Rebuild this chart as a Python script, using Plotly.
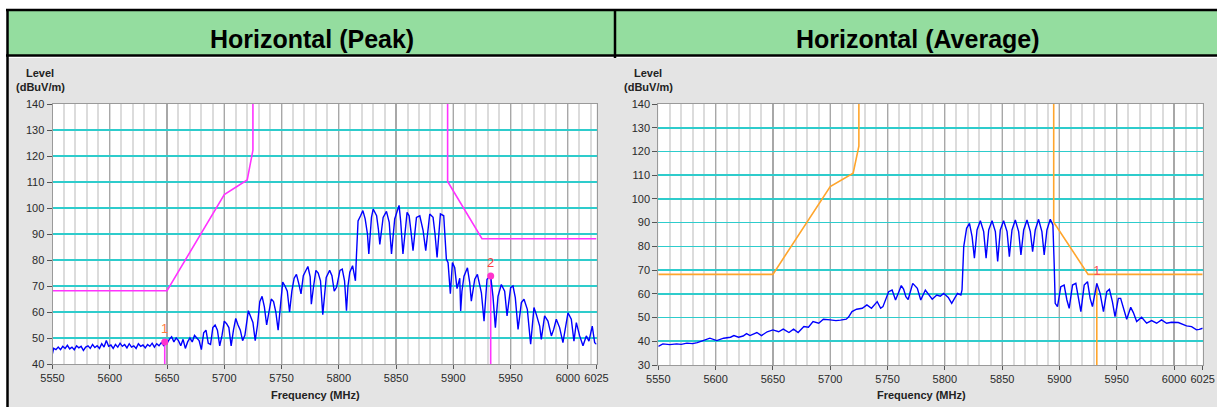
import plotly.graph_objects as go

W, H = 1217, 407

# ---------------- data ----------------
x_tick_vals = [5550, 5600, 5650, 5700, 5750, 5800, 5850, 5900, 5950, 6000, 6025]
x_tick_text = ["5550", "5600", "5650", "5700", "5750", "5800", "5850", "5900", "5950", "6000", "6025"]
peak_y_ticks = [40, 50, 60, 70, 80, 90, 100, 110, 120, 130, 140]
avg_y_ticks = [30, 40, 50, 60, 70, 80, 90, 100, 110, 120, 130, 140]

peak_freq = [5550, 5551, 5553, 5555, 5557, 5559, 5561, 5563, 5565, 5567, 5569, 5571, 5573, 5575,
             5577, 5579, 5581, 5583, 5585, 5587, 5589, 5591, 5593, 5595, 5597, 5599, 5601, 5603,
             5605, 5607, 5609, 5611, 5613, 5615, 5617, 5619, 5621, 5623, 5625, 5627, 5629, 5631,
             5633, 5635, 5637, 5639, 5641, 5643, 5645, 5647, 5648, 5650, 5652, 5654, 5656, 5658,
             5660, 5662, 5664, 5666, 5668, 5670, 5672, 5674, 5676, 5678, 5680, 5682, 5684, 5686,
             5688, 5690, 5692, 5694, 5696, 5698, 5700, 5702, 5704, 5706, 5708, 5710, 5712, 5714,
             5716, 5718, 5721, 5723, 5725, 5727, 5729, 5731, 5733, 5735, 5737, 5739, 5741, 5743,
             5745, 5747, 5749, 5751, 5753, 5755, 5757, 5759, 5761, 5763, 5765, 5767, 5769, 5771,
             5773, 5775, 5776, 5778, 5780, 5782, 5784, 5786, 5788, 5789, 5792, 5794, 5796, 5798,
             5801, 5803, 5805, 5806.7, 5808, 5809.6, 5812, 5814.5, 5815.4, 5816.8, 5819, 5821,
             5823, 5825, 5826.2, 5828.5, 5830, 5833, 5834.5, 5835.8, 5838.7, 5841.6, 5844, 5846,
             5848.8, 5851, 5852.6, 5854, 5856, 5859.6, 5861.4, 5863, 5864.8, 5867.8, 5870.7,
             5873.6, 5875.9, 5879.4, 5882.3, 5884, 5885.8, 5888.7, 5891.6, 5893.9, 5895.4, 5897.4,
             5899.2, 5901.2, 5903.2, 5905.6, 5906.4, 5907.5, 5909.3, 5912.3, 5914.3, 5915.7,
             5918.7, 5921, 5924.5, 5926.8, 5929.4, 5932.6, 5934.6, 5936.7, 5939, 5941.9, 5944.8,
             5946.9, 5950, 5952.1, 5954.1, 5956.5, 5959.4, 5961.7, 5964.6, 5967.5, 5970.4, 5972.5,
             5975.4, 5976.8, 5979.7, 5982.6, 5985.6, 5987.6, 5989.9, 5992.8, 5995.7, 6000.1, 6003,
             6005.3, 6007.4, 6010.3, 6013.2, 6016.1, 6018.4, 6021.3, 6023.4, 6025]
peak_level = [44, 46, 45.5, 46.5, 45.5, 46.8, 46, 47.2, 45.8, 46.5, 45.5, 47, 46.2, 46.8,
              45.2, 46.5, 47, 46, 47.5, 46.3, 47, 46, 47.8, 46.5, 49, 46.8, 47.3, 46,
              47.5, 46.5, 48, 46.8, 47.5, 46.2, 47.8, 46.5, 47, 46, 47.8, 46.8, 47.3, 46.2,
              47.5, 46.8, 48, 46.5, 47.8, 47, 48.2, 47.2, 48.5, 48, 49.5, 50.5, 48.5, 50,
              49, 47, 49.5, 46, 48.5, 50, 48.5, 51, 50, 49, 45.5, 52, 53, 48,
              47.5, 54, 55, 53, 47, 51, 56.5, 55.5, 54, 47, 53, 57.5, 55, 53,
              49, 51, 60.5, 58, 56, 49, 55, 64, 66, 62, 55, 60, 65, 64,
              60, 53, 62, 71.5, 70, 68, 60, 68, 73, 74.5, 71, 67, 74, 76,
              77.5, 73.5, 63, 70, 76, 75, 72, 59, 68, 73.3, 76, 74, 68, 69.5,
              76, 76.5, 72, 60.5, 70, 75.3, 77.8, 72, 81.7, 95, 97, 99,
              95.8, 90, 82.3, 96.4, 99.6, 97, 92, 86, 96.4, 98.7, 94.5, 82.3,
              95.8, 99, 101, 95, 82.3, 98.3, 97, 91, 83.6, 96.4, 97,
              91.3, 83.6, 97.7, 96.4, 90, 81, 97.7, 97, 80.4, 79, 67,
              79, 77, 69, 73, 60.4, 68, 73.8, 77, 71.3, 64.2,
              72.6, 74.5, 67.4, 56.5, 72.6, 73.8, 66, 54, 66, 70.6, 68,
              58.5, 69.4, 70, 65.5, 53.3, 63.6, 64.9, 61, 47.6, 61.7, 59,
              54.6, 49.5, 58.5, 56.5, 50.8, 53.3, 57.2, 54, 48.2, 59.7, 57.2,
              48.8, 55.9, 50.8, 47, 50.8, 48.8, 54.6, 48.2, 47.6]

avg_freq = [5550, 5554, 5560, 5566, 5570, 5575, 5580, 5584, 5589, 5595, 5601, 5607, 5613, 5616,
            5620, 5624, 5627, 5630, 5636, 5640, 5645, 5650, 5655, 5659, 5664, 5668, 5672, 5677,
            5681, 5685, 5690, 5694, 5700, 5705, 5709, 5714, 5716, 5719, 5723, 5728, 5732, 5736,
            5741, 5744, 5746, 5751, 5754, 5757, 5760, 5762, 5764, 5766, 5768, 5772, 5776, 5779,
            5783, 5786, 5789, 5793, 5796, 5799, 5803, 5806, 5811, 5814, 5815, 5816.5, 5819,
            5821.5, 5823.8, 5825.8, 5828.1, 5831, 5833.9, 5836, 5838.3, 5841.2, 5844.1, 5846.1,
            5848.4, 5851.3, 5854.3, 5856.3, 5858.6, 5861.5, 5864.4, 5866.4, 5868.8, 5871.7,
            5874.6, 5876.6, 5878.9, 5881.8, 5884.7, 5886.7, 5889.1, 5892, 5894.3, 5895.4, 5896.3,
            5898.3, 5901.2, 5904.1, 5906.5, 5908.5, 5911.4, 5914.3, 5916.6, 5918.7, 5921.6,
            5924.5, 5926.8, 5928.8, 5932.6, 5935.5, 5938.4, 5941.3, 5943.6, 5946.2, 5948.5,
            5951.4, 5953.4, 5955.8, 5958.7, 5962.2, 5964.5, 5967.4, 5971.7, 5976.1, 5980.4,
            5984.8, 5989.1, 5993.5, 5997.8, 6003.7, 6007, 6010.9, 6015.3, 6019.6, 6022, 6025]
avg_level = [37.8, 38.9, 38.6, 38.9, 38.7, 39.2, 39.0, 39.4, 40.3, 41.3, 40.3, 41.3, 41.7, 42.4,
             41.7, 42.2, 43.2, 42.4, 43.7, 42.4, 44.0, 44.8, 44.0, 45.1, 43.7, 45.1, 43.7, 46.2,
             45.9, 48.3, 47.6, 49.3, 49.0, 48.7, 48.9, 49.3, 50.2, 52.5, 53.5, 53.9, 55.3, 53.9,
             56.7, 53.9, 54.6, 60.9, 61.6, 57.4, 61.0, 63.5, 62.0, 58.8, 57.6, 64.4, 62.3, 57.4,
             61.6, 59.5, 57.7, 59.5, 59.0, 60.2, 58.5, 56.0, 60.2, 59.5, 61.6, 79.9, 87.6,
             89.7, 84.1, 75.0, 86.9, 90.8, 86.2, 75.0, 86.9, 90.8, 86.2, 73.6,
             86.9, 90.8, 86.2, 75.7, 86.9, 91.1, 86.2, 76.4, 86.9, 91.1,
             86.2, 77.8, 86.9, 91.4, 86.2, 76.4, 86.9, 91.4, 89.0, 72.9, 56.0,
             54.6, 63.0, 63.7, 57.4, 53.9, 63.7, 64.4, 57.4, 52.5, 63.7,
             65.1, 58.1, 54.6, 64.4, 60.2, 52.5, 60.9, 61.9, 56.7, 50.4,
             58.1, 58.1, 53.9, 49.3, 54.3, 52.1, 48.3, 50.1, 47.6, 48.7,
             47.6, 49.0, 47.6, 48.0, 47.9, 47.2, 46.5, 46.2, 44.8, 45.0, 45.5]

# limit lines (left band-edge mask and right band-edge mask)
peak_limit_left_freq = [5550, 5650, 5700, 5720, 5725, 5725]
peak_limit_left_level = [68.2, 68.2, 105.2, 110.8, 122.2, 150]
peak_limit_right_freq = [5895, 5895, 5925, 6025]
peak_limit_right_level = [150, 110.2, 88.2, 88.2]
avg_limit_left_freq = [5550, 5650, 5700, 5720, 5725, 5725]
avg_limit_left_level = [68.2, 68.2, 105.2, 110.8, 122.2, 150]
avg_limit_right_freq = [5895, 5895, 5925, 6025]
avg_limit_right_level = [150, 90.2, 68.2, 68.2]

# markers
peak_marker_freq = [5648, 5932.6]
peak_marker_level = [48.5, 73.8]
peak_marker_label = ["1", "2"]
avg_marker_freq = [5932.6]
avg_marker_level = [64.4]
avg_marker_label = ["1"]

# ---------------- layout helpers ----------------
def px(x):
    return x / W

def py(y):
    return 1 - y / H

FONT = "Arial, 'Liberation Sans', sans-serif"
BLUE = "#0000FF"
MAGENTA = "#FF33FF"
ORANGE = "#FFA52C"

fig = go.Figure()

# peak traces
fig.add_trace(go.Scatter(x=peak_limit_left_freq, y=peak_limit_left_level, mode="lines",
                         line=dict(color=MAGENTA, width=1.6), xaxis="x", yaxis="y",
                         hoverinfo="skip", showlegend=False))
fig.add_trace(go.Scatter(x=peak_limit_right_freq, y=peak_limit_right_level, mode="lines",
                         line=dict(color=MAGENTA, width=1.6), xaxis="x", yaxis="y",
                         hoverinfo="skip", showlegend=False))
for f, l in zip(peak_marker_freq, peak_marker_level):
    fig.add_trace(go.Scatter(x=[f, f], y=[l, 30], mode="lines",
                             line=dict(color=MAGENTA, width=1.6), xaxis="x", yaxis="y",
                             hoverinfo="skip", showlegend=False))
fig.add_trace(go.Scatter(x=peak_freq, y=peak_level, mode="lines",
                         line=dict(color=BLUE, width=1.4), xaxis="x", yaxis="y",
                         showlegend=False))
fig.add_trace(go.Scatter(x=peak_marker_freq, y=peak_marker_level, mode="markers+text",
                         marker=dict(color="#FF33CC", size=7),
                         text=peak_marker_label, textposition="top center",
                         textfont=dict(color=["#FF7A3C", "#FF4040"], size=13, family=FONT),
                         xaxis="x", yaxis="y", showlegend=False))

# average traces
fig.add_trace(go.Scatter(x=avg_limit_left_freq, y=avg_limit_left_level, mode="lines",
                         line=dict(color=ORANGE, width=1.6), xaxis="x2", yaxis="y2",
                         hoverinfo="skip", showlegend=False))
fig.add_trace(go.Scatter(x=avg_limit_right_freq, y=avg_limit_right_level, mode="lines",
                         line=dict(color=ORANGE, width=1.6), xaxis="x2", yaxis="y2",
                         hoverinfo="skip", showlegend=False))
for f, l in zip(avg_marker_freq, avg_marker_level):
    fig.add_trace(go.Scatter(x=[f, f], y=[l, 20], mode="lines",
                             line=dict(color=ORANGE, width=1.6), xaxis="x2", yaxis="y2",
                             hoverinfo="skip", showlegend=False))
fig.add_trace(go.Scatter(x=avg_freq, y=avg_level, mode="lines",
                         line=dict(color=BLUE, width=1.4), xaxis="x2", yaxis="y2",
                         showlegend=False))
fig.add_trace(go.Scatter(x=avg_marker_freq, y=avg_marker_level, mode="markers+text",
                         marker=dict(color="rgba(0,0,0,0)", size=7, symbol="square-open",
                                     line=dict(color=ORANGE, width=1.5)),
                         text=avg_marker_label, textposition="top center",
                         textfont=dict(color="#FF5050", size=13, family=FONT),
                         xaxis="x2", yaxis="y2", showlegend=False))

def xaxis_cfg(domain, anchor):
    return dict(domain=domain, anchor=anchor, range=[5550, 6025],
                tickmode="array", tickvals=x_tick_vals, ticktext=x_tick_text,
                showgrid=True, gridcolor="#A8A8A8", gridwidth=1.2,
                minor=dict(dtick=10, tick0=5550, showgrid=True, gridcolor="#DCDCDC", gridwidth=2,
                           ticks=""),
                ticks="outside", ticklen=4, tickcolor="#555555",
                tickfont=dict(family=FONT, size=11, color="#2A2A2A"),
                showline=True, linecolor="#9A9A9A", linewidth=1, mirror=True,
                zeroline=False, fixedrange=True, automargin=False)

def yaxis_cfg(domain, anchor, rng, vals):
    return dict(domain=domain, anchor=anchor, range=rng,
                tickmode="array", tickvals=vals,
                showgrid=True, gridcolor="#2ECCCC", gridwidth=1.6,
                ticks="outside", ticklen=5, tickcolor="#555555",
                tickfont=dict(family=FONT, size=11, color="#2A2A2A"),
                showline=True, linecolor="#9A9A9A", linewidth=1, mirror=True,
                zeroline=False, fixedrange=True, automargin=False)

fig.update_layout(
    template="none",
    width=W, height=H,
    margin=dict(l=0, r=0, t=0, b=0, pad=0, autoexpand=False),
    paper_bgcolor="white", plot_bgcolor="rgba(0,0,0,0)",
    showlegend=False,
    xaxis=xaxis_cfg([px(52.5), px(596.5)], "y"),
    yaxis=yaxis_cfg([py(364), py(104)], "x", [40, 140], peak_y_ticks),
    xaxis2=xaxis_cfg([px(658.3), px(1202.7)], "y2"),
    yaxis2=yaxis_cfg([py(365), py(104)], "x2", [30, 140], avg_y_ticks),
)

shapes = []
# grey panel
shapes.append(dict(type="rect", xref="paper", yref="paper", x0=px(7), x1=1, y0=0, y1=py(58),
                   fillcolor="#E4E4E4", line=dict(width=0), layer="below"))
# white plot areas
shapes.append(dict(type="rect", xref="paper", yref="paper", x0=px(52.5), x1=px(596.5),
                   y0=py(364), y1=py(104), fillcolor="white", line=dict(width=0), layer="below"))
shapes.append(dict(type="rect", xref="paper", yref="paper", x0=px(658.3), x1=px(1202.7),
                   y0=py(365), y1=py(104), fillcolor="white", line=dict(width=0), layer="below"))
# green title bars
shapes.append(dict(type="rect", xref="paper", yref="paper", x0=px(8), x1=px(614), y0=py(55), y1=py(11),
                   fillcolor="#94DD9F", line=dict(width=0), layer="below"))
shapes.append(dict(type="rect", xref="paper", yref="paper", x0=px(616), x1=1, y0=py(55), y1=py(11),
                   fillcolor="#94DD9F", line=dict(width=0), layer="below"))
# black borders
for (x0, y0, x1, y1) in [(6, 10, W, 10), (6, 55.5, W, 55.5), (7.5, 10, 7.5, H), (615, 10, 615, 58)]:
    shapes.append(dict(type="line", xref="paper", yref="paper", x0=px(x0), x1=px(x1),
                       y0=py(y0), y1=py(y1), line=dict(color="black", width=2.5), layer="below"))
fig.update_layout(shapes=shapes)

ann = []
def add_text(text, x, y, size, color):
    ann.append(dict(text=text, x=px(x), y=py(y), xref="paper", yref="paper",
                    xanchor="center", yanchor="middle", showarrow=False,
                    font=dict(family=FONT, size=size, color=color)))

add_text("<b>Horizontal (Peak)</b>", 312, 39, 25, "black")
add_text("<b>Horizontal (Average)</b>", 918, 39, 25, "black")
for cx in (40, 648):
    add_text("<b>Level</b>", cx, 73, 11, "#222222")
    add_text("<b>(dBuV/m)</b>", cx, 87, 11, "#222222")
for cx in (315, 922):
    add_text("<b>Frequency (MHz)</b>", cx, 395, 11, "#222222")
fig.update_layout(annotations=ann)

fig.write_html("out.html",
               config={"displayModeBar": False, "staticPlot": True},
               post_script="document.body.style.margin='0';document.body.style.padding='0';"
                           "document.body.style.overflow='hidden';")
